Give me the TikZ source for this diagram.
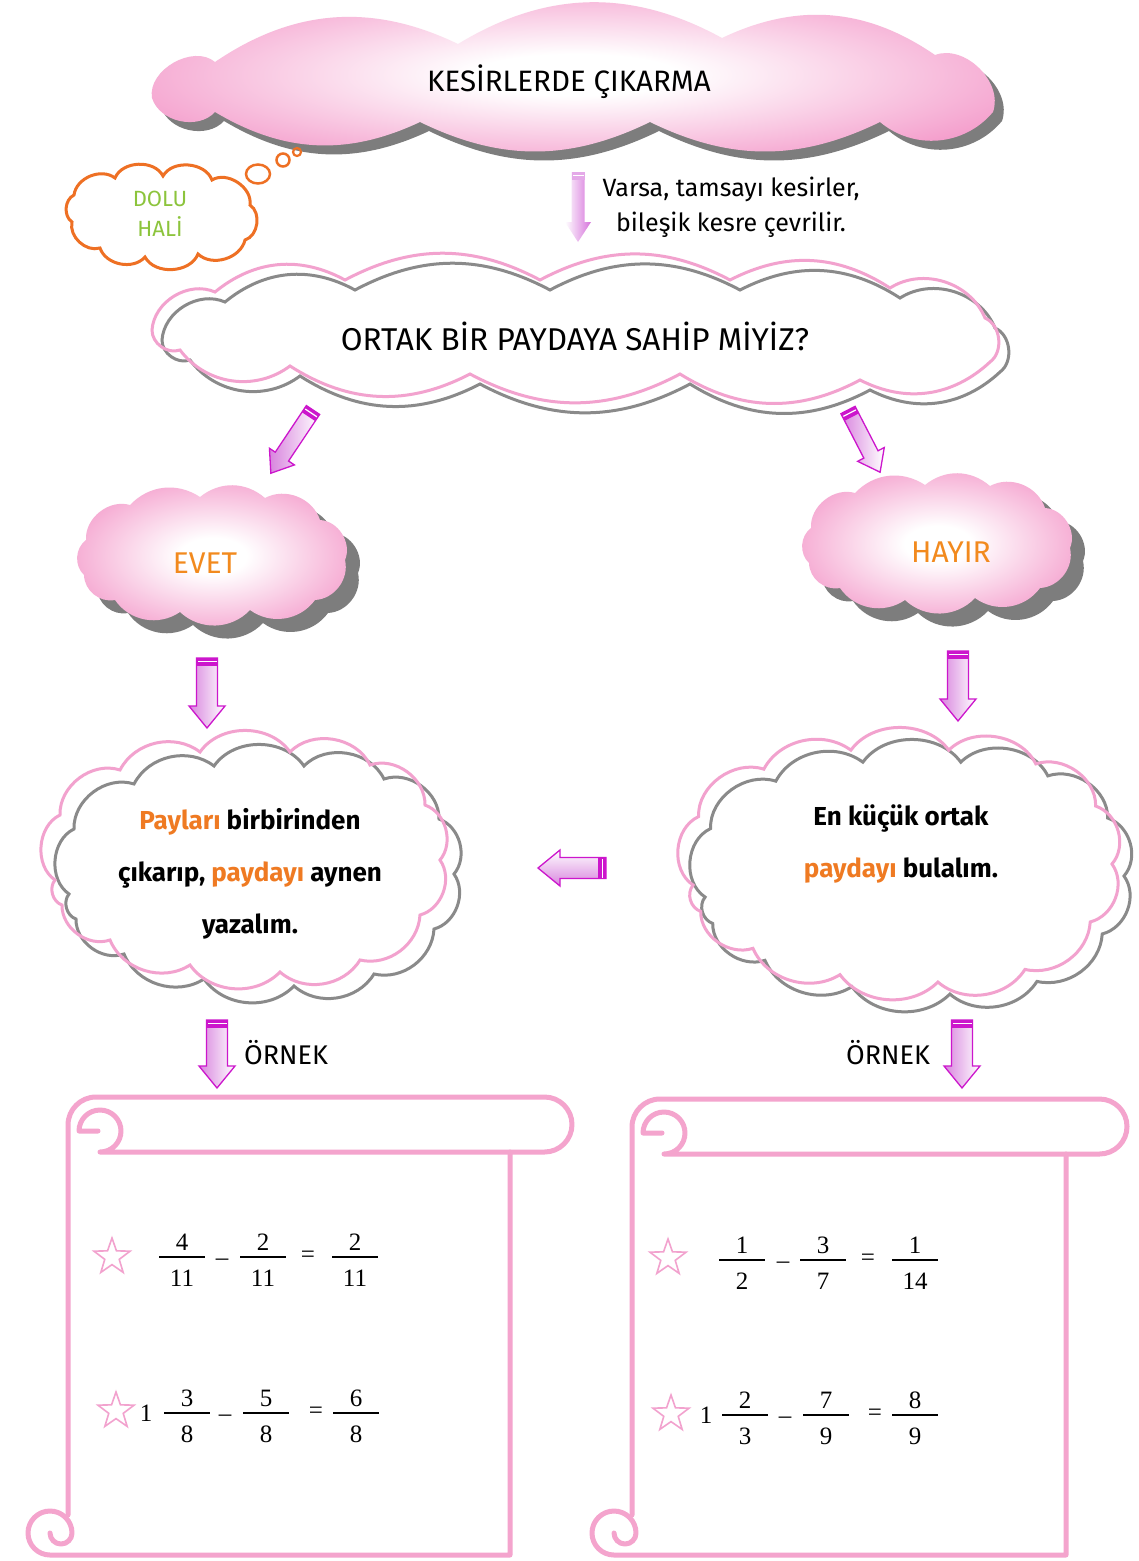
\documentclass[tikz,border=0pt]{standalone}
\usepackage{fontspec}
\setmainfont{Fira Sans}
\newfontfamily\numfont{Liberation Serif}
\usetikzlibrary{shapes.geometric,shadows,calc}

\definecolor{cloudpink}{HTML}{F28BC2}
\definecolor{shadowgray}{HTML}{7D7D7D}
\definecolor{linepink}{HTML}{F2A2CE}
\definecolor{linegray}{HTML}{8A8A8A}
\definecolor{txtorange}{HTML}{F28A1E}
\definecolor{wordorange}{HTML}{EF7A22}
\definecolor{txtgreen}{HTML}{8CC43C}
\definecolor{thoughtorange}{HTML}{EE7024}
\definecolor{arrowmag}{HTML}{CC16CC}
\definecolor{arrowlilac}{HTML}{D884DE}
\definecolor{scrollpink}{HTML}{F4A4CD}

\pgfdeclareradialshading{pinkglow}{\pgfpoint{0bp}{0bp}}{color(0bp)=(white); color(6bp)=(white); color(33bp)=(cloudpink); color(80bp)=(cloudpink)}

\newcommand\titlefont{\fontsize{29.5}{34}\selectfont}
\newcommand\askfont{\fontsize{31.5}{36}\selectfont}
\newcommand\notefont{\fontsize{25}{35}\selectfont}
\newcommand\smallcap{\fontsize{22}{30}\selectfont}
\newcommand\answerfont{\fontsize{30}{34}\selectfont}
\newcommand\cloudfont{\fontsize{26}{52}\selectfont\bfseries}
\newcommand\examplefont{\fontsize{27}{30}\selectfont}
\newcommand\digitfont{\numfont\fontsize{25}{30}\selectfont}

\tikzset{
  every node/.style={inner sep=0pt},
  pinkfill/.style={shading=pinkglow, draw=none},
  pinkshadow/.style={drop shadow={shadow xshift=#1pt, shadow yshift=-#1pt, fill=shadowgray, opacity=1}},
  outlinecloud/.style={draw=linepink, line width=3pt,
    general shadow={shadow xshift=#1pt, shadow yshift=-#1pt, draw=linegray, line width=3pt}},
  arrowbody/.style={draw=arrowmag, line width=1.3pt},
  vshade/.style={left color=arrowlilac, right color=white},
  hshade/.style={top color=white, bottom color=arrowlilac},
  lightarrow/.style={draw=none, left color=white, right color=arrowlilac!85!arrowmag},
  scrollline/.style={draw=scrollpink, line width=5pt, line join=round, line cap=round},
  starmark/.style={star, star points=5, star point ratio=2.5, draw=linepink, line width=1.6pt, minimum size=38pt},
  fnum/.style={anchor=base, font=\digitfont},
  fbar/.style={line width=1.7pt},
  sign/.style={font=\digitfont},
}

% block arrow: [body style]{tail x}{tail y}{direction}{length}{body half width}{head half width}{head length}{tail colour}
\newcommand\blockarrow[9][vshade]{%
  \begin{scope}[shift={(#2,#3)}, rotate=-#4]
    \path[arrowbody,#1] (0,-#6) -- (#5-#8,-#6) -- (#5-#8,-#7) -- (#5,0) -- (#5-#8,#7) -- (#5-#8,#6) -- (0,#6) -- cycle;
    \fill[#9] (0,-#6) rectangle (8,#6);
    \draw[white, line width=1.2pt] (3.5,-#6+1) -- (3.5,#6-1);
  \end{scope}}

% fraction: {name}{x}{bar y}{numerator}{denominator}
\newcommand\fracat[5]{%
  \node[fnum] (#1n) at (#2,#3-7) {#4};
  \node[fnum] (#1d) at (#2,#3+29) {#5};
  \draw[fbar] (#2-23,#3) -- (#2+23,#3);}

% scroll: {left edge x}{body right x}{roll right x}{top y}
\newcommand\scrollat[4]{%
  \draw[scrollline] (#1,1515) -- (#1,#4+28) arc[start angle=180,end angle=270,radius=28]
     -- (#3-27.5,#4) arc[start angle=-90,end angle=90,radius=27.5]
     -- (#1+32,#4+55) arc[start angle=90,end angle=-180,radius=21] -- (#1+30,#4+34);
  \draw[scrollline] (#2,#4+55) -- (#2,1555) -- (#1-18,1555)
     arc[start angle=90,end angle=360,radius=22]
     arc[start angle=0,end angle=180,radius=11];}

\begin{document}
\begin{tikzpicture}[x=1pt,y=-1pt]
\fill[white] (0,0) rectangle (1138,1561);
\useasboundingbox (0,0) rectangle (1138,1561);

% title cloud
\path[pinkfill, pinkshadow=9] (152,98)
  \foreach \px/\py/\pb in {215/62/70, 458/44/30, 722/38/30, 935/55/30, 993/112/65, 880/122/45,
                           650/122/26, 420/122/26, 215/112/28, 152/98/60}
  { to[bend left=\pb] (\px,\py) } -- cycle;
\node[font=\titlefont] (title) at (569,82) {KESİRLERDE ÇIKARMA};

% thought cloud with its bubbles
\path[draw=thoughtorange, line width=3pt, fill=white] (74,195)
  \foreach \px/\py/\pb in {115/178/60, 163/176/65, 212/180/65, 250/205/65, 245/240/65, 198/254/60,
                           145/257/65, 100/248/60, 72/222/60, 74/195/60}
  { to[bend left=\pb] (\px,\py) } -- cycle;
\node[align=center, text=txtgreen, font=\smallcap] (dolu) at (160,214) {DOLU\\HALİ};
\node[ellipse, draw=thoughtorange, line width=2.5pt, minimum width=24pt, minimum height=19pt] (bub1) at (258,174) {};
\node[circle, draw=thoughtorange, line width=2.5pt, minimum size=13pt] (bub2) at (283,160) {};
\node[circle, draw=thoughtorange, line width=2.2pt, minimum size=8pt] (bub3) at (297,152) {};

% note beside the first arrow
\node[font=\notefont, align=center] (note) at (731,207) {Varsa, tamsayı kesirler,\\bileşik kesre çevrilir.};

% question cloud
\path[outlinecloud=10] (152,330)
  \foreach \px/\py/\pb in {215/292/55, 345/280/34, 540/280/28, 730/280/28, 890/288/30, 985/318/50,
                           990/362/60, 860/380/35, 680/374/30, 470/374/28, 290/366/30, 180/350/45, 152/330/55}
  { to[bend left=\pb] (\px,\py) } -- cycle;
\node[font=\askfont] (ask) at (575,336) {ORTAK BİR PAYDAYA SAHİP MİYİZ?};

% answer clouds
\path[pinkfill, pinkshadow=13] (86,540)
  \foreach \px/\py/\pb in {130/505/55, 200/497/40, 265/498/40, 320/520/50, 345/560/55, 315/600/50,
                           250/610/45, 180/612/45, 115/600/45, 84/575/50, 86/540/50}
  { to[bend left=\pb] (\px,\py) } -- cycle;
\node[font=\answerfont, text=txtorange] (evet) at (205,563) {EVET};
\begin{scope}[shift={(725,-12)}]
\path[pinkfill, pinkshadow=13] (86,540)
  \foreach \px/\py/\pb in {130/505/55, 200/497/40, 265/498/40, 320/520/50, 345/560/55, 315/600/50,
                           250/610/45, 180/612/45, 115/600/45, 84/575/50, 86/540/50}
  { to[bend left=\pb] (\px,\py) } -- cycle;
\end{scope}
\node[font=\answerfont, text=txtorange] (hayir) at (951,552) {HAYIR};

% rule clouds
\begin{scope}[shift={(247,860)}]
\path[outlinecloud=14] (-192,20)
  \foreach \px/\py/\pb in {-187/-45/60, -127/-90/55, -47/-108/50, 43/-108/55, 123/-95/55, 178/-55/55,
                           193/0/55, 173/55/55, 113/100/50, 33/112/50, -57/105/50, -137/80/50,
                           -185/45/55, -192/20/55}
  { to[bend left=\pb] (\px,\py) } -- cycle;
\end{scope}
\node[font=\cloudfont, align=center] (same) at (250,874)
  {\textcolor{wordorange}{Payları} birbirinden\\çıkarıp, \textcolor{wordorange}{paydayı} aynen\\yazalım.};
\begin{scope}[shift={(902,864)}, xscale=1.088, yscale=1.054]
\path[outlinecloud=12] (-192,20)
  \foreach \px/\py/\pb in {-187/-45/60, -127/-90/55, -47/-108/50, 43/-108/55, 123/-95/55, 178/-55/55,
                           193/0/55, 173/55/55, 113/100/50, 33/112/50, -57/105/50, -137/80/50,
                           -185/45/55, -192/20/55}
  { to[bend left=\pb] (\px,\py) } -- cycle;
\end{scope}
\node[font=\cloudfont, align=center] (diff) at (901,844)
  {En küçük ortak\\\textcolor{wordorange}{paydayı} bulalım.};

% arrows
\blockarrow[lightarrow]{578}{172}{90}{70}{6.5}{13}{20}{arrowlilac!70!white}
\blockarrow{313}{410}{123.7}{76}{8}{15}{20}{arrowmag}
\blockarrow{848}{410}{62.7}{70}{8}{15}{20}{arrowmag}
\blockarrow{207}{658}{90}{70}{10.5}{18}{22}{arrowmag}
\blockarrow{958}{651}{90}{70}{10.5}{18}{22}{arrowmag}
\blockarrow[hshade]{606}{868}{180}{68}{10.5}{18}{22}{arrowmag}
\blockarrow{217}{1020}{90}{68}{10.5}{18}{22}{arrowmag}
\blockarrow{962}{1020}{90}{68}{10.5}{18}{22}{arrowmag}

\node[font=\examplefont] (ex1) at (286,1053) {ÖRNEK};
\node[font=\examplefont] (ex2) at (888,1053) {ÖRNEK};

% scrolls
\scrollat{68}{510}{572}{1097}
\scrollat{632}{1066}{1127}{1099}

% left examples
\node[starmark] (s1) at (112,1257) {};
\fracat{a1}{182}{1257}{4}{11}
\node[sign] (m1) at (222,1262) {–};
\fracat{a2}{263}{1257}{2}{11}
\node[sign] (e1) at (308,1257) {=};
\fracat{a3}{355}{1257}{2}{11}

\node[starmark] (s2) at (116,1411) {};
\node[sign] (w2) at (146,1413) {1};
\fracat{b1}{187}{1413}{3}{8}
\node[sign] (m2) at (225,1418) {–};
\fracat{b2}{266}{1413}{5}{8}
\node[sign] (e2) at (316,1413) {=};
\fracat{b3}{356}{1413}{6}{8}

% right examples
\node[starmark] (s3) at (668,1258) {};
\fracat{c1}{742}{1260}{1}{2}
\node[sign] (m3) at (783,1265) {–};
\fracat{c2}{823}{1260}{3}{7}
\node[sign] (e3) at (868,1260) {=};
\fracat{c3}{915}{1260}{1}{14}

\node[starmark] (s4) at (671,1414) {};
\node[sign] (w4) at (706,1415) {1};
\fracat{d1}{745}{1415}{2}{3}
\node[sign] (m4) at (785,1420) {–};
\fracat{d2}{826}{1415}{7}{9}
\node[sign] (e4) at (875,1415) {=};
\fracat{d3}{915}{1415}{8}{9}
\end{tikzpicture}
\end{document}
